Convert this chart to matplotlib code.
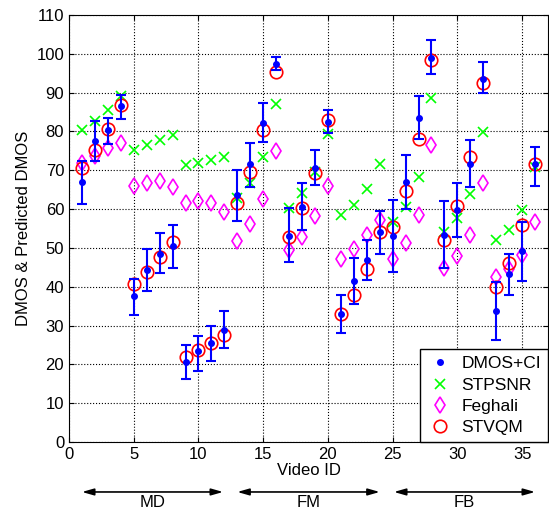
import numpy as np
import matplotlib.pyplot as plt
import matplotlib.transforms as mtransforms
from matplotlib.lines import Line2D

plt.rcParams['font.family'] = ['Liberation Sans', 'DejaVu Sans']

#=====================
# DATA
#=====================
video_id = np.arange(1, 37)
dmos = [67.0, 77.6, 80.5, 86.6, 37.5, 44.3, 48.5, 50.4, 20.6, 23.4, 25.6, 28.8,
        63.6, 71.5, 82.3, 97.5, 53.1, 60.5, 70.7, 82.5, 33.1, 41.6, 46.9, 54.1,
        53.1, 67.0, 83.6, 99.0, 53.4, 59.7, 71.7, 93.6, 33.8, 43.3, 49.1, 71.5]
ci_lo = [61.4, 72.5, 76.9, 83.1, 32.7, 38.8, 43.6, 44.8, 16.3, 18.4, 20.8, 24.1,
         56.9, 65.7, 77.3, 95.9, 46.4, 54.5, 66.3, 79.5, 28.2, 35.6, 41.8, 48.5,
         43.7, 60.1, 78.0, 94.7, 44.8, 52.8, 65.7, 89.8, 26.3, 37.9, 41.6, 65.9]
ci_hi = [72.4, 82.6, 83.6, 89.4, 42.1, 49.6, 53.9, 55.8, 25.1, 27.2, 30.0, 33.8,
         70.2, 77.1, 87.4, 99.1, 60.4, 66.8, 75.2, 85.5, 37.9, 47.3, 52.1, 59.4,
         62.4, 73.9, 89.2, 103.6, 62.0, 66.7, 77.9, 97.9, 41.3, 48.5, 56.6, 76.0]
stpsnr = [80.5, 82.7, 85.5, 89.2, 75.2, 76.4, 77.7, 79.1, 71.3, 71.9, 72.6, 73.4,
          62.8, 66.7, 73.4, 87.2, 60.4, 64.1, 69.6, 79.3, 58.5, 61.1, 65.3, 71.5,
          56.6, 60.6, 68.3, 88.5, 54.2, 57.7, 64.0, 79.9, 52.1, 54.7, 59.7, 70.9]
feghali = [72.0, 73.7, 75.8, 77.1, 66.0, 66.8, 67.3, 65.7, 61.7, 62.1, 61.7, 59.2,
           51.7, 56.1, 62.7, 75.0, 49.4, 52.9, 58.1, 66.0, 47.2, 49.8, 53.4, 57.2,
           47.2, 51.2, 58.4, 76.4, 44.8, 47.8, 53.4, 66.6, 42.6, 44.5, 48.2, 56.8]
stvqm = [70.5, 75.2, 80.6, 86.8, 40.8, 43.9, 47.6, 51.5, 22.0, 23.6, 25.4, 27.6,
         61.5, 69.5, 80.5, 95.2, 52.9, 60.2, 69.4, 82.9, 33.0, 37.9, 44.6, 54.1,
         55.4, 64.7, 78.0, 98.4, 52.1, 60.9, 73.4, 92.5, 39.9, 46.2, 56.0, 71.5]

# content groups below the x axis
groups = ['MD', 'FM', 'FB']
group_start = [1.0, 13.0, 25.1]
group_end = [11.9, 24.0, 36.0]

#=====================
# PLOT
#=====================
fig = plt.figure(figsize=(5.49, 5.11), dpi=100)
ax = fig.add_axes([0.1257, 0.135, 0.8725, 0.8356])

dmos = np.array(dmos)
yerr = [dmos - np.array(ci_lo), np.array(ci_hi) - dmos]

ax.plot(video_id, stpsnr, 'x', color=(0, 1, 0), markersize=7, mew=1.2, zorder=2)
ax.plot(video_id, feghali, 'd', color='magenta', mfc='none', markersize=8.5,
        mew=1.2, zorder=2)
ax.plot(video_id, stvqm, 'o', color='red', mfc='none', markersize=9,
        mew=1.2, zorder=2)
ax.errorbar(video_id, dmos, yerr=yerr, fmt='.', color='blue', markersize=8,
            ecolor='blue', elinewidth=1.5, capsize=3.5, capthick=1.5, zorder=3)

ax.set_xlim(0, 37)
ax.set_ylim(0, 110)
ax.set_xticks(np.arange(0, 36, 5))
ax.set_yticks(np.arange(0, 111, 10))
ax.tick_params(direction='in', top=True, right=True, labelsize=12)
ax.grid(True, linestyle=':', color='black', linewidth=0.8)
ax.set_axisbelow(True)
ax.set_xlabel('Video ID', fontsize=12, labelpad=1)
ax.set_ylabel('DMOS & Predicted DMOS', fontsize=12)

# legend with single markers, as in the original
handles = [
    Line2D([], [], ls='none', marker='.', color='blue', markersize=8),
    Line2D([], [], ls='none', marker='x', color=(0, 1, 0), markersize=7, mew=1.2),
    Line2D([], [], ls='none', marker='d', color='magenta', mfc='none',
           markersize=8.5, mew=1.2),
    Line2D([], [], ls='none', marker='o', color='red', mfc='none',
           markersize=9, mew=1.2),
]
labels = ['DMOS+CI', 'STPSNR', 'Feghali', 'STVQM']
leg = ax.legend(handles, labels, loc='lower right', fontsize=12.5, fancybox=False,
                framealpha=1, edgecolor='black', borderaxespad=0,
                handletextpad=0.5, handlelength=1.5, labelspacing=0.35)
leg.get_frame().set_linewidth(1.0)

# arrows marking the content groups
trans = mtransforms.blended_transform_factory(ax.transData, ax.transAxes)
for name, x0, x1 in zip(groups, group_start, group_end):
    ax.annotate('', xy=(x1, -0.117), xytext=(x0, -0.117), xycoords=trans,
                textcoords=trans, annotation_clip=False,
                arrowprops=dict(arrowstyle='<|-|>,head_length=0.7,head_width=0.2',
                                color='black', lw=1.2, shrinkA=0, shrinkB=0))
    ax.text((x0 + x1) / 2, -0.141, name, transform=trans, ha='center',
            va='center', fontsize=12)

plt.savefig('out.png', dpi=100)
